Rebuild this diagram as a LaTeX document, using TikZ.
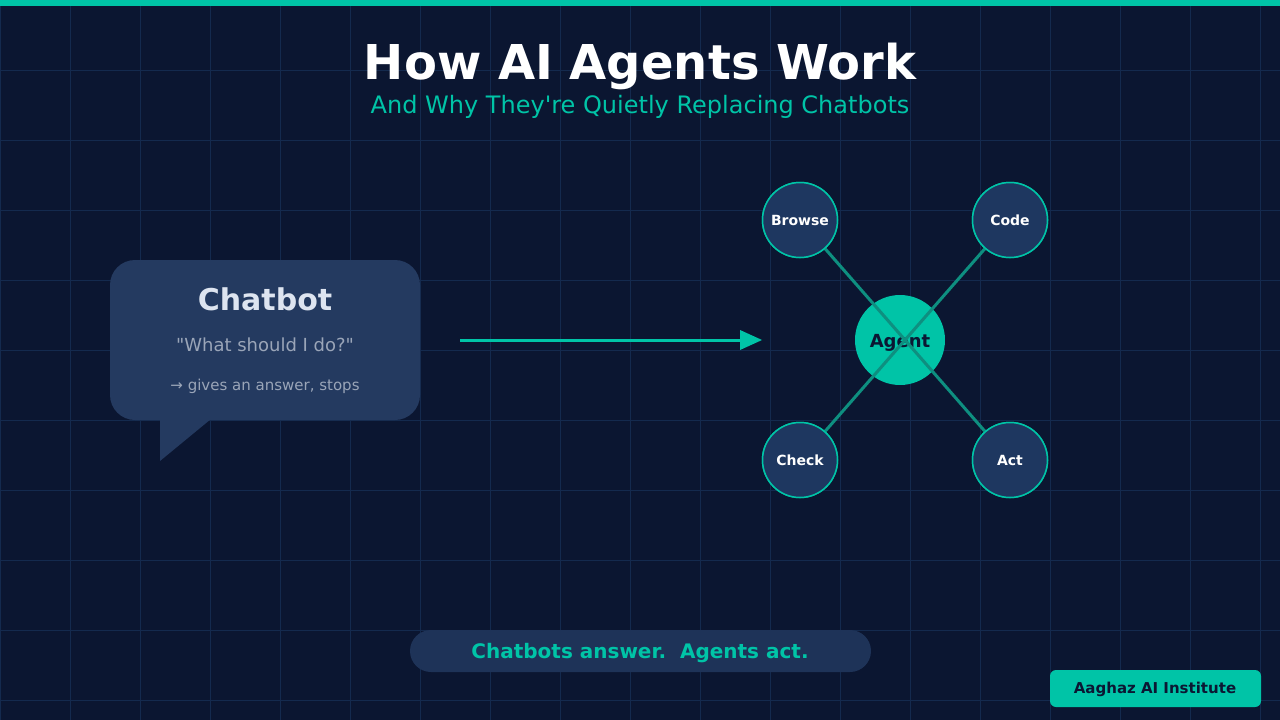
\documentclass[tikz,border=0pt]{standalone}
\usepackage{fontspec}
\setmainfont{DejaVu Sans}[Ligatures=TeXOff]
\definecolor{bg}{HTML}{0B1631}
\definecolor{gridc}{HTML}{142A4E}
\definecolor{teal}{HTML}{00C4A7}
\definecolor{tealdk}{HTML}{0E8F80}
\definecolor{bubble}{HTML}{243A60}
\definecolor{toolfill}{HTML}{1E3760}
\definecolor{pill}{HTML}{1E3358}
\definecolor{navytext}{HTML}{0B1733}
\definecolor{softw}{HTML}{DDE4F0}
\definecolor{grayt}{HTML}{9AA5B8}
\begin{document}
\begin{tikzpicture}[x=1pt,y=-1pt,
  tool/.style={circle,draw=teal,line width=1.5pt,fill=toolfill,minimum size=75pt,inner sep=0pt},
  toollabel/.style={inner sep=0pt,anchor=base,text=white,font=\bfseries\fontsize{14}{16}\selectfont},
  link/.style={draw=tealdk,line width=3pt},
  txt/.style={inner sep=0pt,anchor=base}]
\useasboundingbox (0,0) rectangle (1280,720);
\fill[bg] (0,0) rectangle (1280,720);
\foreach \x in {0,70,...,1260} \draw[gridc,line width=1pt] (\x,0) -- (\x,720);
\foreach \y in {0,70,...,700} \draw[gridc,line width=1pt] (0,\y) -- (1280,\y);
\fill[teal] (0,0) rectangle (1280,6);
% title
\node[txt,text=white,font=\bfseries\fontsize{48}{56}\selectfont] (title) at (640,79) {How AI Agents Work};
\node[txt,text=teal,font=\fontsize{24}{28}\selectfont] (sub) at (640,113) {And Why They're Quietly Replacing Chatbots};
% chatbot bubble
\fill[bubble,rounded corners=25pt] (110,260) rectangle (420,420);
\fill[bubble] (160,419) -- (160,461) -- (211,419) -- cycle;
\node[txt,text=softw,font=\bfseries\fontsize{30}{34}\selectfont] (cb) at (265,310) {Chatbot};
\node[txt,text=grayt,font=\fontsize{18}{21}\selectfont] (q) at (265,351) {"What should I do?"};
\node[txt,text=grayt,font=\fontsize{15}{18}\selectfont] (g) at (265,390) {→ gives an answer, stops};
% arrow
\coordinate (a1) at (460,340);
\coordinate (a2) at (740,340);
\draw[teal,line width=3pt] (a1) -- (a2);
\fill[teal] (740,330) -- (762,340) -- (740,350) -- cycle;
% agent
\node[circle,fill=teal,minimum size=90pt,inner sep=0pt] (agent) at (900,340) {};
\node[tool] (browse) at (800,220) {};
\node[tool] (code) at (1010,220) {};
\node[tool] (check) at (800,460) {};
\node[tool] (act) at (1010,460) {};
\node[txt,text=navytext,font=\bfseries\fontsize{18}{21}\selectfont] (agentlbl) at (900,347) {Agent};
\draw[link] (browse.center) -- (act.center);
\draw[link] (code.center) -- (check.center);
\node[tool] (browse2) at (800,220) {};
\node[tool] (code2) at (1010,220) {};
\node[tool] (check2) at (800,460) {};
\node[tool] (act2) at (1010,460) {};
\node[toollabel] (lb) at (800,225) {Browse};
\node[toollabel] (lc) at (1010,225) {Code};
\node[toollabel] (lk) at (800,465) {Check};
\node[toollabel] (la) at (1010,465) {Act};
% bottom pill
\fill[pill,rounded corners=21pt] (410,630) rectangle (871,672);
\node[txt,text=teal,font=\bfseries\fontsize{20}{24}\selectfont] (tag) at (640,658) {Chatbots answer.\ \ Agents act.};
% badge
\fill[teal,rounded corners=6pt] (1050,670) rectangle (1261,707);
\node[txt,text=navytext,font=\bfseries\fontsize{15}{18}\selectfont] (badge) at (1155,693) {Aaghaz AI Institute};
\end{tikzpicture}
\end{document}
